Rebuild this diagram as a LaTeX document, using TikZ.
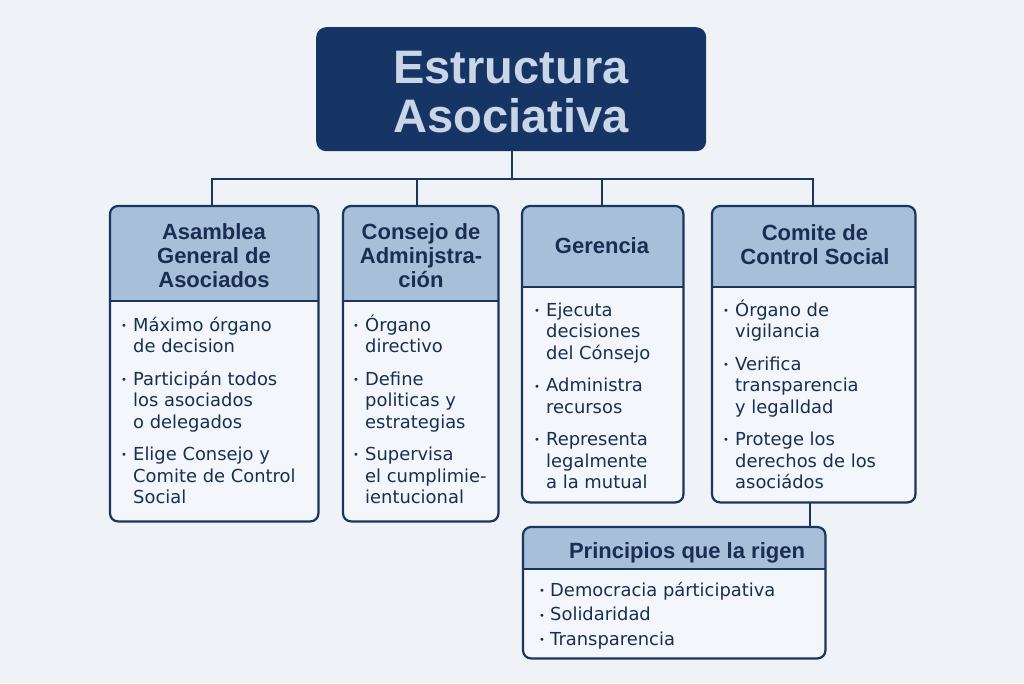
\documentclass[tikz,border=0pt]{standalone}
\usepackage{fontspec}
\setmainfont{DejaVu Sans}
\newfontfamily\hdfont{Liberation Sans}
\usetikzlibrary{calc}
\definecolor{bgc}{HTML}{EFF3F8}
\definecolor{bodyc}{HTML}{F3F6FA}
\definecolor{hdrc}{HTML}{A7BFD8}
\definecolor{navy}{HTML}{1A355F}
\definecolor{titlec}{HTML}{173564}
\definecolor{titletxt}{HTML}{C8D6E7}
\definecolor{txtc}{HTML}{1A2D52}
\newcommand{\tstr}{\rule{0pt}{20pt}}
\newcommand{\dotmark}{\raisebox{1.6pt}{\fontsize{10}{10}\selectfont •}}
\newcommand{\bul}{\makebox[13pt][l]{\hspace*{0.8pt}\dotmark}}
\newcommand{\pbul}{\makebox[12pt][l]{\hspace*{0.8pt}\dotmark}}
\newcommand{\ind}{\hspace*{13pt}}
\newcommand{\panel}[2]{%
  \begin{scope}
    \clip[rounded corners=8pt] (#1.north west) rectangle (#1.south east);
    \fill[hdrc] (#1.north west) rectangle ($(#1.north east)+(0,#2)$);
  \end{scope}
  \draw[bord] ($(#1.north west)+(0,#2)$) -- ($(#1.north east)+(0,#2)$);
  \draw[bord, rounded corners=8pt] (#1.north west) rectangle (#1.south east);}
\tikzset{
  panelbox/.style={fill=bodyc, rounded corners=8pt, inner sep=0pt, anchor=north west},
  bord/.style={draw=navy, line width=2.2pt},
  conn/.style={draw=navy, line width=2pt},
  hdtext/.style={font=\hdfont\bfseries\fontsize{22}{24}\selectfont, text=txtc, align=center, inner sep=0pt, anchor=north},
  bodytext/.style={font=\fontsize{17.9}{21.6}\selectfont, text=txtc, align=left, inner sep=0pt, anchor=north west},
  titlebox/.style={fill=titlec, rounded corners=10pt, inner sep=0pt, anchor=north west},
  titletext/.style={font=\hdfont\bfseries\fontsize{47}{49}\selectfont, text=titletxt, align=center, inner sep=0pt, anchor=north}
}
\begin{document}
\begin{tikzpicture}[x=1pt,y=-1pt]
\fill[bgc] (0,0) rectangle (1024,683);
\useasboundingbox (0,0) rectangle (1024,683);

% title
\node[titlebox, minimum width=390pt, minimum height=124pt] (t) at (316,27) {};
\node[titletext] (tt) at (511,45) {\rule{0pt}{38pt}Estructura\\Asociativa};

% boxes
\node[panelbox, minimum width=208pt, minimum height=315pt] (b1) at (110,206) {};
\node[panelbox, minimum width=155pt, minimum height=315pt] (b2) at (343,206) {};
\node[panelbox, minimum width=161pt, minimum height=296pt] (b3) at (522,206) {};
\node[panelbox, minimum width=203pt, minimum height=296pt] (b4) at (712,206) {};
\node[panelbox, minimum width=302pt, minimum height=131pt] (p) at (523,527) {};
\panel{b1}{95}
\panel{b2}{95}
\panel{b3}{81}
\panel{b4}{81}
\panel{p}{42}

% connectors
\coordinate (bus) at (512,179);
\draw[conn] (t.south -| bus) -- (bus);
\draw[conn] ($(b1.north)+(-2,0)$) |- (bus) -| ($(b4.north)+(-1,0)$);
\draw[conn] ($(b2.north)+(-4,0)$) coordinate (c2) -- (c2 |- bus);
\draw[conn] ($(b3.north)+(-1,0)$) coordinate (c3) -- (c3 |- bus);
\draw[conn] ($(b4.south)+(-4,0)$) coordinate (c4) -- (c4 |- p.north);

% headers
\node[hdtext] (h1) at (214,219) {\tstr Asamblea\\General de\\Asociados};
\node[hdtext] (h2) at (421,219) {\tstr Consejo de\\Adminjstra-\\ción};
\node[hdtext] (h3) at (602,233) {\tstr Gerencia};
\node[hdtext] (h4) at (815,220) {\tstr Comite de\\Control Social};
\node[hdtext] (h5) at (687,538) {\tstr Principios que la rigen};

% bodies
\node[bodytext] (x1) at (120,311) {\tstr\bul Máximo órgano\\\ind de decision\\[10.6pt]\bul Participán todos\\\ind los asociados\\\ind o delegados\\[10.6pt]\bul Elige Consejo y\\\ind Comite de Control\\\ind Social};
\node[bodytext] (x2) at (352,311) {\tstr\bul Órgano\\\ind directivo\\[10.6pt]\bul Define\\\ind politicas y\\\ind estrategias\\[10.6pt]\bul Supervisa\\\ind el cumplimie-\\\ind ientucional};
\node[bodytext] (x3) at (533,296) {\tstr\bul Ejecuta\\\ind decisiones\\\ind del Cónsejo\\[10.6pt]\bul Administra\\\ind recursos\\[10.6pt]\bul Representa\\\ind legalmente\\\ind a la mutual};
\node[bodytext] (x4) at (722,296) {\tstr\bul Órgano de\\\ind vigilancia\\[10.6pt]\bul Verifica\\\ind transparencia\\\ind y legalldad\\[10.6pt]\bul Protege los\\\ind derechos de los\\\ind asociádos};
\node[bodytext, font=\fontsize{17.9}{24.5}\selectfont] (x5) at (538,576) {\tstr\pbul Democracia párticipativa\\\pbul Solidaridad\\\pbul Transparencia};
\end{tikzpicture}
\end{document}
